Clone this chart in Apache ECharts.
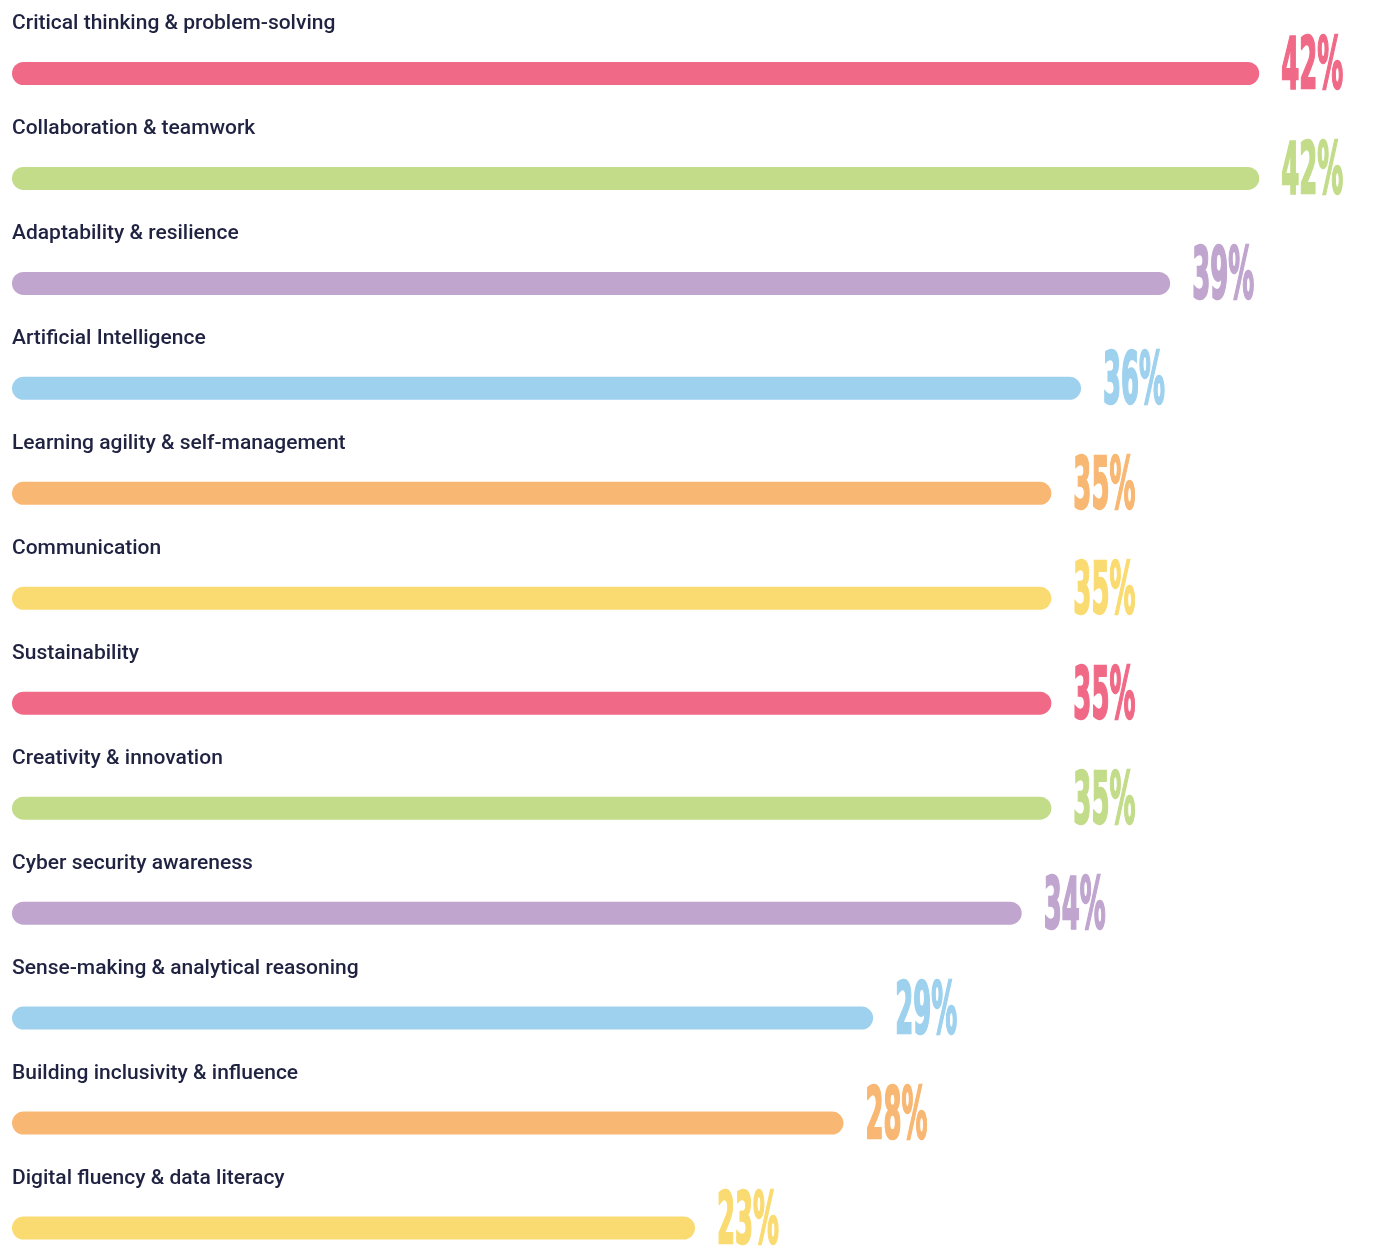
<!DOCTYPE html>
<html>
<head>
<meta charset="utf-8">
<script src="https://cdn.jsdelivr.net/npm/echarts@6/dist/echarts.min.js"></script>
<style>
  html, body { margin: 0; padding: 0; background: #fff; }
  #chart { width: 1381px; height: 1246px; }
</style>
</head>
<body>
<div id="chart"></div>
<script>
// skills, top to bottom
const skills = [
  "Critical thinking & problem-solving",
  "Collaboration & teamwork",
  "Adaptability & resilience",
  "Artificial Intelligence",
  "Learning agility & self-management",
  "Communication",
  "Sustainability",
  "Creativity & innovation",
  "Cyber security awareness",
  "Sense-making & analytical reasoning",
  "Building inclusivity & influence",
  "Digital fluency & data literacy",
];
const shares = [42, 42, 39, 36, 35, 35, 35, 35, 34, 29, 28, 23];
const palette = ["#F06A88", "#C2DC8A", "#C0A5CF", "#9DD1EE", "#F8B772", "#FADB72"];

const colorOf = (i) => palette[i % palette.length];

const chart = echarts.init(document.getElementById("chart"));

const option = {
  animation: false,
  backgroundColor: "#ffffff",
  grid: { left: 12, right: 3, top: 73.5, bottom: 18, containLabel: false },
  xAxis: {
    type: "value",
    min: 0,
    max: 46,
    show: false,
  },
  yAxis: {
    type: "category",
    data: skills,
    inverse: true,
    boundaryGap: false,
    show: false,
  },
  series: [
    {
      name: "skills",
      type: "bar",
      data: shares,
      barWidth: 23,
      itemStyle: {
        color: (p) => colorOf(p.dataIndex),
        borderRadius: 11.5,
      },
      label: {
        show: true,
        position: [0, -38],
        verticalAlign: "middle",
        align: "left",
        formatter: (p) => skills[p.dataIndex],
        color: "#1F2240",
        fontFamily: "Roboto",
        fontWeight: 500,
        fontSize: 21,
      },
    },
    {
      name: "pct",
      type: "custom",
      data: shares.map((v, i) => [v, i]),
      encode: { x: 0, y: 1 },
      renderItem: (params, api) => {
        const p = api.coord([api.value(0), api.value(1)]);
        const c = colorOf(params.dataIndex);
        return {
          type: "text",
          x: p[0] + 22,
          y: p[1] - 4,
          scaleX: 0.8,
          scaleY: 2.0,
          style: {
            text: api.value(0) + "%",
            fill: c,
            stroke: c,
            lineWidth: 1.2,
            fontFamily: "'Liberation Sans Narrow', 'DejaVu Sans Condensed', sans-serif",
            fontWeight: "bold",
            fontSize: 36,
            align: "left",
            verticalAlign: "middle",
          },
        };
      },
    },
  ],
};

chart.setOption(option);
</script>
</body>
</html>
